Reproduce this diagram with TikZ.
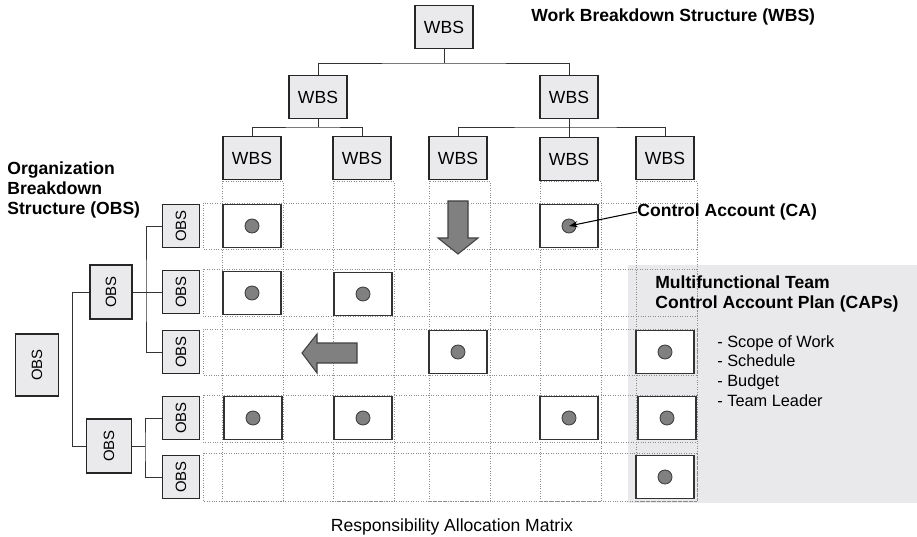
\documentclass[tikz,border=0pt]{standalone}
\usepackage{fontspec}
\setmainfont{Liberation Sans}
\usetikzlibrary{arrows.meta}

\definecolor{capshade}{RGB}{233,233,235}
\definecolor{boxfill}{RGB}{234,234,236}

\tikzset{
	wbsbox/.style={draw=black!85,line width=1.1pt,fill=boxfill,minimum width=1.16cm,minimum height=0.86cm,inner sep=0pt,font=\fontsize{10}{12}\selectfont},
	obsbox/.style={wbsbox,rotate=90,minimum width=0.86cm,minimum height=0.74cm,font=\fontsize{8.5}{10}\selectfont},
	cabox/.style={draw=black!80,line width=0.6pt,fill=white,minimum width=1.16cm,minimum height=0.86cm,inner sep=0pt},
	cadot/.style={circle,draw=black!75,fill=black!50,line width=0.5pt,minimum size=0.28cm,inner sep=0pt},
	gridline/.style={draw=black!45,densely dotted,line width=0.4pt},
	link/.style={draw=black!80,line width=0.5pt},
	bigarrow/.style={draw=black!75,fill=black!50,line width=0.6pt},
	headtext/.style={font=\fontsize{10}{11.6}\selectfont\bfseries,inner sep=0pt,align=left}
}

\begin{document}
\begin{tikzpicture}[x=0.02cm,y=-0.02cm]
	\useasboundingbox (0,0) rectangle (917,537);

	\fill[capshade] (628,265) rectangle (917,503);

	\foreach \ya/\yb in {203/249,269/316,329/375,395/442,453/501}
		\draw[gridline] (203,\ya) rectangle (697,\yb);
	\foreach \xa/\xb in {222/283,333/394,429/490,540/601,636/697}
		\draw[gridline] (\xa,181) rectangle (\xb,501);

	% work breakdown
	\node[wbsbox] (w0) at (444,27) {WBS};
	\node[wbsbox] (w1) at (318,97) {WBS};
	\node[wbsbox] (w2) at (569,97) {WBS};
	\node[wbsbox] (w11) at (252,158) {WBS};
	\node[wbsbox] (w12) at (362,158) {WBS};
	\node[wbsbox] (w21) at (458,158) {WBS};
	\node[wbsbox] (w22) at (569,159) {WBS};
	\node[wbsbox] (w23) at (665,158) {WBS};

	\coordinate (j0) at (444,63);
	\coordinate (j1) at (318,127);
	\coordinate (j2) at (569,127);
	\draw[link] (w0) -- (j0);
	\draw[link] (w1.north) |- (j0) -| (w2.north);
	\draw[link] (w1) -- (j1);
	\draw[link] (w11.north) |- (j1) -| (w12.north);
	\draw[link] (w2) -- (w22);
	\draw[link] (w21.north) |- (j2) -| (w23.north);

	% organization breakdown
	\node[obsbox,minimum width=1.24cm,minimum height=0.86cm] (o0) at (37,365) {OBS};
	\node[obsbox,minimum width=1.08cm,minimum height=0.84cm] (o1) at (111,292) {OBS};
	\node[obsbox,minimum width=1.08cm,minimum height=0.9cm] (o2) at (109,446) {OBS};
	\node[obsbox] (o11) at (181,226) {OBS};
	\node[obsbox] (o12) at (181,292) {OBS};
	\node[obsbox] (o13) at (181,352) {OBS};
	\node[obsbox] (o21) at (181,418) {OBS};
	\node[obsbox] (o22) at (181,477) {OBS};

	\coordinate (k1) at (72,292);
	\coordinate (k2) at (72,446);
	\coordinate (k3) at (146,292);
	\coordinate (k4) at (145,446);
	\draw[link] (o1) -- (k1) -- (k2) -- (o2);
	\draw[link] (o1) -- (o12);
	\draw[link] (o11.north) -| (k3) |- (o13.north);
	\draw[link] (o2) -- (k4);
	\draw[link] (o21.north) -| (k4) |- (o22.north);

	% control accounts
	\foreach \n/\x/\y in {11/252/226,14/569/226,21/252/293,22/363/294,33/458/352,35/665/352,41/253/418,42/363/418,44/569/418,45/667/418,55/665/477}{
		\node[cabox] (ca\n) at (\x,\y) {};
		\node[cadot] (d\n) at (\x,\y) {};
	}

	\draw[bigarrow] (448,201) -- (468,201) -- (468,238) -- (478,238) -- (458,254) -- (438,238) -- (448,238) -- cycle;
	\draw[bigarrow] (357,343) -- (357,363) -- (317,363) -- (317,373) -- (302,353) -- (317,334) -- (317,343) -- cycle;

	% labels
	\node[headtext,anchor=west] (wbstitle) at (531,17) {Work Breakdown Structure (WBS)};
	\node[headtext,anchor=north west] (obstitle) at (7,161) {Organization\\Breakdown\\Structure (OBS)};
	\node[headtext,anchor=west] (catext) at (637,212) {Control Account (CA)};
	\draw[black,line width=0.6pt,-{Stealth[length=5pt,width=3.5pt]}] (catext.west) -- (d14.center);
	\node[headtext,anchor=north west] (captitle) at (655,275) {Multifunctional Team\\Control Account Plan (CAPs)};
	\node[anchor=north west,inner sep=0pt,align=left,font=\fontsize{9.3}{11.2}\selectfont] (caplist) at (717,335) {- Scope of Work\\- Schedule\\- Budget\\- Team Leader};
	\node[font=\fontsize{10}{12}\selectfont] (ramtitle) at (452,527) {Responsibility Allocation Matrix};
\end{tikzpicture}
\end{document}
